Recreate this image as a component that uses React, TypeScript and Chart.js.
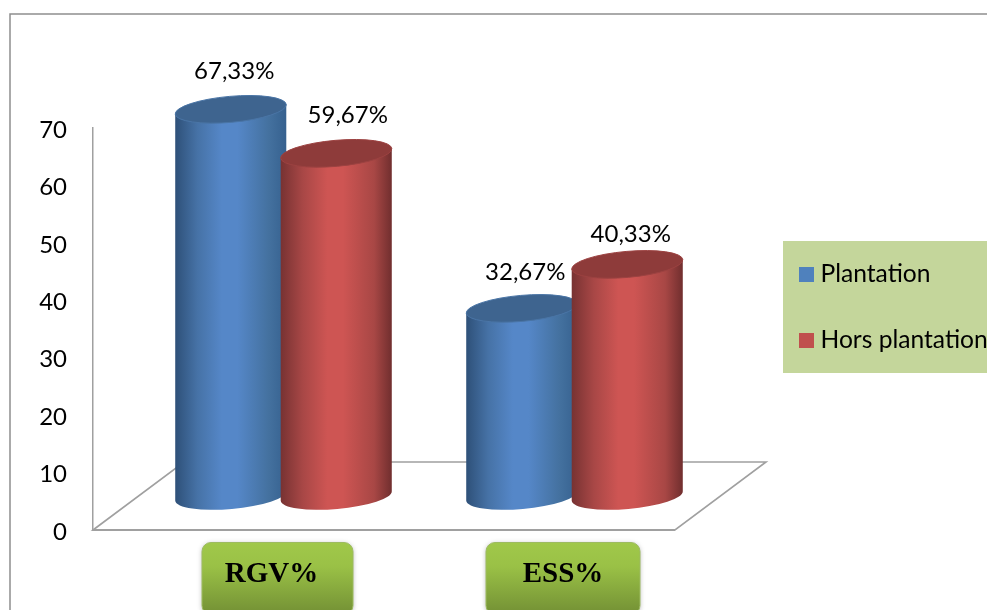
import React, { useEffect, useRef } from "react";
import { Chart, registerables } from "chart.js";

Chart.register(...registerables);

const categories = ["RGV%", "ESS%"];
const plantation = [67.33, 32.67];
const horsPlantation = [59.67, 40.33];
const seriesNames = ["Plantation", "Hors plantation"];
const seriesColors = ["#4F81BD", "#C0504D"];
const yTicks = [0, 10, 20, 30, 40, 50, 60, 70];

const FONT = "Lato";
const DEPTH_X = 91;
const DEPTH_Y = 68;

const ramps = [
  { edgeL: "#2E5078", lift: "#4672A6", mid: "#5587C8", shade: "#44719F", edgeR: "#36618F", top: "#3E648F", rim: "#4A75A6" },
  { edgeL: "#773232", lift: "#A84746", mid: "#CE5553", shade: "#A84745", edgeR: "#702E2E", top: "#8E3B3A", rim: "#9C4241" },
];

const labelNudge = [
  [[3, -38], [3, -36]],
  [[11, -38], [3, -30]],
];
const boxOffsets = [39, 33.5];
const boxWidths = [151, 154];
const textOffsets = [-6, 0];

function cylinder(ctx: CanvasRenderingContext2D, cx: number, top: number, base: number, w: number, r: (typeof ramps)[number]) {
  const rx = w / 2;
  const ry = 13;
  const tilt = (-5 * Math.PI) / 180;
  const dx = rx * Math.cos(tilt);
  const dy = rx * Math.sin(tilt);
  const g = ctx.createLinearGradient(cx - rx, 0, cx + rx, 0);
  g.addColorStop(0, r.edgeL);
  g.addColorStop(0.2, r.lift);
  g.addColorStop(0.42, r.mid);
  g.addColorStop(0.56, r.mid);
  g.addColorStop(0.84, r.shade);
  g.addColorStop(1, r.edgeR);
  ctx.beginPath();
  ctx.moveTo(cx - dx, top - dy);
  ctx.lineTo(cx - dx, base - dy);
  ctx.ellipse(cx, base, rx, ry, tilt, Math.PI, 0, true);
  ctx.lineTo(cx + dx, top + dy);
  ctx.closePath();
  ctx.fillStyle = g;
  ctx.fill();
  ctx.beginPath();
  ctx.ellipse(cx, top, rx, ry, tilt, 0, Math.PI * 2);
  ctx.fillStyle = r.top;
  ctx.fill();
  ctx.strokeStyle = r.rim;
  ctx.lineWidth = 1;
  ctx.stroke();
}

const sketchPlugin = {
  id: "sketch",
  beforeDraw(chart: any) {
    const { ctx } = chart;
    ctx.save();
    ctx.fillStyle = "#ffffff";
    ctx.fillRect(0, 0, chart.width, chart.height);
    ctx.strokeStyle = "#8E8E8E";
    ctx.lineWidth = 1.5;
    ctx.beginPath();
    ctx.moveTo(10, 610);
    ctx.lineTo(10, 14);
    ctx.lineTo(987, 14);
    ctx.stroke();
    ctx.restore();
  },
  beforeDatasetsDraw(chart: any) {
    const { ctx, chartArea: a } = chart;
    ctx.save();
    ctx.strokeStyle = "#A0A0A0";
    ctx.lineWidth = 1.6;
    ctx.beginPath();
    ctx.moveTo(a.left, a.bottom);
    ctx.lineTo(a.left + DEPTH_X, a.bottom - DEPTH_Y);
    ctx.lineTo(a.right + DEPTH_X, a.bottom - DEPTH_Y);
    ctx.lineTo(a.right, a.bottom);
    ctx.closePath();
    ctx.stroke();
    ctx.lineWidth = 2;
    ctx.beginPath();
    ctx.moveTo(a.left, a.bottom);
    ctx.lineTo(a.right, a.bottom);
    ctx.stroke();
    chart.data.datasets.forEach((_: any, di: number) => {
      chart.getDatasetMeta(di).data.forEach((bar: any) => {
        cylinder(ctx, bar.x + DEPTH_X / 2 - 0.5, bar.y - DEPTH_Y / 2, bar.base - DEPTH_Y / 2, bar.width + 6, ramps[di]);
      });
    });
    ctx.restore();
  },
  beforeDatasetDraw() {
    return false;
  },
  afterDatasetsDraw(chart: any) {
    const { ctx, chartArea: a } = chart;
    ctx.save();
    ctx.font = `24px ${FONT}`;
    ctx.textAlign = "center";
    ctx.textBaseline = "middle";
    ctx.fillStyle = "#000000";
    chart.data.datasets.forEach((ds: any, di: number) => {
      chart.getDatasetMeta(di).data.forEach((bar: any, i: number) => {
        const [nx, ny] = labelNudge[di][i];
        const text = ds.data[i].toFixed(2).replace(".", ",") + "%";
        ctx.fillText(text, bar.x + DEPTH_X / 2 + nx, bar.y - DEPTH_Y / 2 + ny);
      });
    });
    const xs = chart.scales.x;
    categories.forEach((c, i) => {
      const cx = xs.getPixelForValue(i) + boxOffsets[i];
      const w = boxWidths[i];
      const y = a.bottom + 12.5;
      const h = 72;
      const g = ctx.createLinearGradient(0, y, 0, y + h - 4);
      g.addColorStop(0, "#A0C84A");
      g.addColorStop(0.35, "#9AC146");
      g.addColorStop(1, "#769436");
      ctx.save();
      ctx.shadowColor = "rgba(0,0,0,0.3)";
      ctx.shadowBlur = 5;
      ctx.shadowOffsetY = 1;
      ctx.beginPath();
      ctx.roundRect(cx - w / 2, y, w, h, 9);
      ctx.fillStyle = g;
      ctx.fill();
      ctx.restore();
      ctx.strokeStyle = "#9DBB61";
      ctx.lineWidth = 1;
      ctx.stroke();
      ctx.font = "bold 29px 'Liberation Serif'";
      ctx.fillStyle = "#000000";
      ctx.fillText(c, cx + textOffsets[i], a.bottom + 45);
    });
    ctx.fillStyle = "#C4D69B";
    ctx.fillRect(783, 241, 204, 132);
    ctx.font = `24.6px ${FONT}`;
    ctx.textAlign = "left";
    chart.data.datasets.forEach((ds: any, di: number) => {
      const cy = 274.5 + di * 66;
      ctx.fillStyle = ds.backgroundColor;
      ctx.fillRect(799, cy - 7.5, 15, 15);
      ctx.fillStyle = "#000000";
      ctx.fillText(ds.label, 820.5, cy);
    });
    ctx.restore();
  },
};

export default function App() {
  const ref = useRef<HTMLCanvasElement>(null);
  useEffect(() => {
    document.body.style.margin = "0";
    document.body.style.overflow = "hidden";
    const chart = new Chart(ref.current!, {
      type: "bar",
      data: {
        labels: categories,
        datasets: [
          { label: seriesNames[0], data: plantation, backgroundColor: seriesColors[0] },
          { label: seriesNames[1], data: horsPlantation, backgroundColor: seriesColors[1] },
        ],
      },
      options: {
        animation: false,
        responsive: false,
        devicePixelRatio: 1,
        layout: { padding: { left: 0, top: 128, right: 312, bottom: 80 } },
        datasets: { bar: { categoryPercentage: 0.725, barPercentage: 1 } },
        plugins: { legend: { display: false }, tooltip: { enabled: false } },
        scales: {
          x: {
            grid: { display: false },
            border: { display: false },
            ticks: { display: false },
            afterFit: (s: any) => { s.height = 0; },
          },
          y: {
            min: 0,
            max: 70,
            afterBuildTicks: (s: any) => { s.ticks = yTicks.map((value) => ({ value })); },
            afterFit: (s: any) => { s.width = 93; },
            grid: { display: false, drawTicks: false },
            border: { display: true, color: "#A0A0A0", width: 1.5 },
            ticks: { color: "#000000", padding: 26, labelOffset: 2, font: { family: FONT, size: 24 } },
          },
        },
      },
      plugins: [sketchPlugin],
    } as any);
    return () => chart.destroy();
  }, []);
  return <canvas ref={ref} width={987} height={610} style={{ display: "block" }} />;
}
